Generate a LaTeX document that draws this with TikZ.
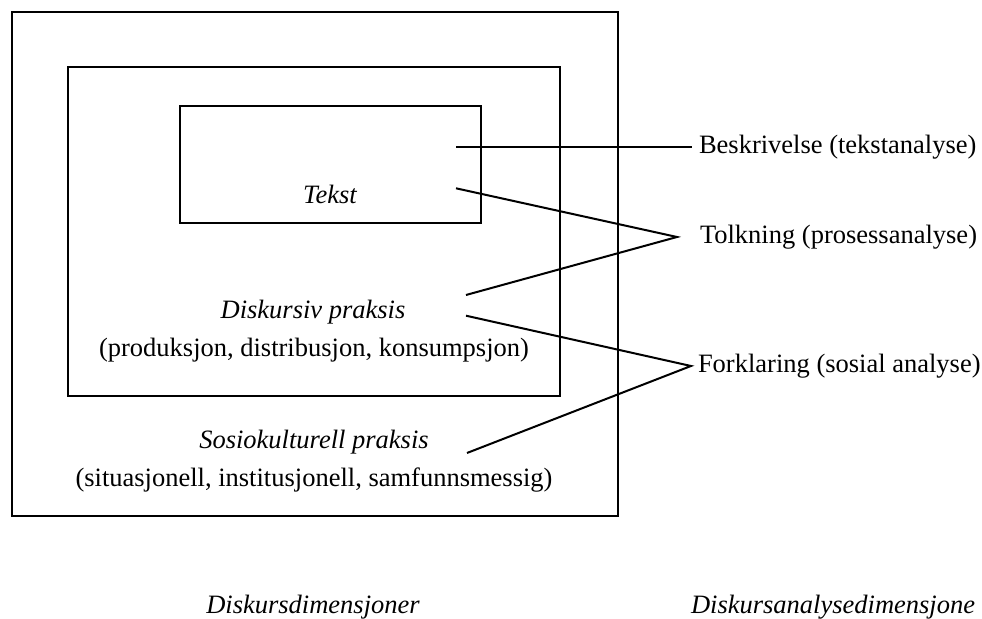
\documentclass[tikz,border=0pt]{standalone}
\usepackage{fontspec}
\setmainfont{Liberation Serif}
\usetikzlibrary{positioning}

\begin{document}
\begin{tikzpicture}[x=0.5pt, y=-0.5pt, line width=1pt,
    txt/.style={font=\fontsize{13.25}{16}\selectfont},
    emtxt/.style={font=\fontsize{13.25}{16}\selectfont\itshape},
    dim/.style={txt, anchor=west, inner sep=3pt}]
        \useasboundingbox (0,0) rectangle (982,619);
        % nested boxes
        \draw (12,12) rectangle (618,516);
        \draw (68,67) rectangle (560,396);
        \draw (180,106) rectangle (481,223);
        % box labels
        \node[emtxt, anchor=base] (tekst) at (330,203.5) {Tekst};
        \node[emtxt, anchor=base] (disk) at (313,318.5) {Diskursiv praksis};
        \node[txt, anchor=base] (diskx) at (314,357) {(produksjon, distribusjon, konsumpsjon)};
        \node[emtxt, anchor=base] (sosio) at (314,448.5) {Sosiokulturell praksis};
        \node[txt, anchor=base] (sosiox) at (314,487) {(situasjonell, institusjonell, samfunnsmessig)};
        % analysis dimensions
        \node[dim] (besk) at (692,146.7) {Beskrivelse (tekstanalyse)};
        \node[dim] (tolk) at (693,237) {Tolkning (prosessanalyse)};
        \node[dim] (fork) at (691,366) {Forklaring (sosial analyse)};
        \coordinate (tolkv) at ([xshift=-8pt]tolk.west);
        % line starts
        \coordinate (a1) at (456,146.7);
        \coordinate (a2) at (456,188.3);
        \coordinate (a3) at (466,295);
        \coordinate (a4) at (466,315.7);
        \coordinate (a5) at (467,453);
        \draw (a1) -- (besk.west);
        \draw (a2) -- (tolkv) -- (a3);
        \draw (a4) -- (fork.west) -- (a5);
        % captions
        \node[emtxt, anchor=base] (capl) at (313,614) {Diskursdimensjoner};
        \node[emtxt, anchor=base west, inner sep=0pt] (capr) at (690,614) {Diskursanalysedimensjone};
    \end{tikzpicture}
\end{document}
